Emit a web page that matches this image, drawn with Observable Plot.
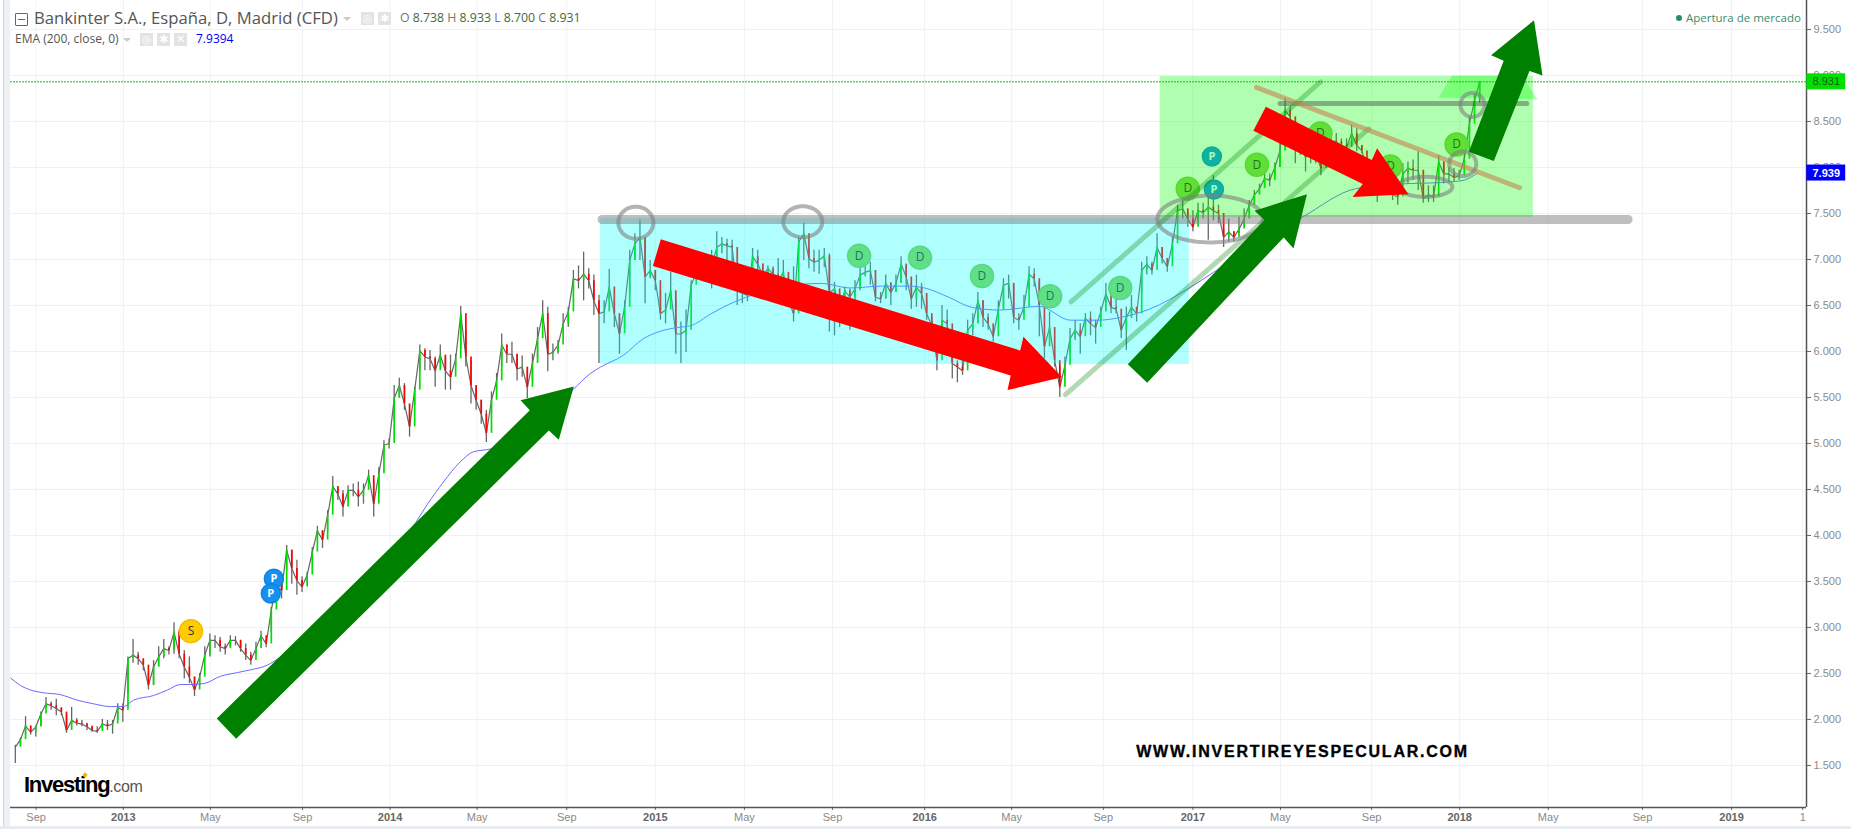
<!DOCTYPE html>
<html><head><meta charset="utf-8">
<script src="https://cdn.jsdelivr.net/npm/d3@7"></script>
<script src="https://cdn.jsdelivr.net/npm/@observablehq/plot@0.6"></script>
<style>
html,body{margin:0;padding:0;background:#fff;width:1851px;height:829px;overflow:hidden}
#chart{position:absolute;left:0;top:0}
.o{position:absolute;white-space:nowrap;line-height:1}
.hd{font-family:"Open Sans",sans-serif}
.ic{position:absolute;background:#e3e3e3;color:#fff;font:bold 11px/13px "DejaVu Sans";text-align:center;width:13px;height:13px}
.lstrip{position:absolute;left:3px;top:0;width:7px;height:829px;background:#eef1f4;border-left:1px solid #cfd3d8;box-sizing:border-box}
.bstrip{position:absolute;left:0;top:826px;width:1851px;height:3px;background:#e8ecf0}
</style></head><body>
<div class="lstrip"></div><div class="bstrip"></div>
<div id="chart"></div>
<script>
// session-indexed x axis (one unit = one weekly bar), as trading charts do
const tickSession=[4.06,21.1,38.1,56.1,73.2,90.2,107.7,125,142.4,159.6,177.6,194.6,212.5,230,247.1,264.9,282.1,299.4,317.8,335.2,349.1];
const tickLabel=["Sep","2013","May","Sep","2014","May","Sep","2015","May","Sep","2016","May","Sep","2017","May","Sep","2018","May","Sep","2019","1"];
const priceTicks=[1.5,2,2.5,3,3.5,4,4.5,5,5.5,6,6.5,7,7.5,8,8.5,9,9.5];

const low=[1.52,1.72,1.83,1.83,1.81,1.92,2.13,2.10,2.04,2.04,
1.85,1.95,1.93,1.92,1.88,1.86,1.85,1.90,1.88,1.84,
1.99,1.97,2.28,2.61,2.59,2.53,2.32,2.37,2.57,2.66,
2.70,2.71,2.66,2.44,2.39,2.25,2.37,2.66,2.68,2.77,
2.73,2.70,2.79,2.80,2.73,2.64,2.59,2.70,2.84,2.78,
2.95,3.29,3.31,3.62,3.47,3.35,3.38,3.49,3.73,3.98,
3.86,4.04,4.34,4.38,4.20,4.38,4.42,4.31,4.34,4.56,
4.20,4.45,4.91,4.94,5.25,5.50,5.36,5.07,5.41,5.79,
5.79,5.79,5.61,5.87,5.58,5.58,5.83,6.03,5.83,5.43,
5.36,5.21,5.01,5.32,5.58,5.83,5.87,5.87,5.68,5.72,
5.49,5.68,5.92,6.34,5.78,5.90,5.97,6.23,6.26,6.66,
6.68,6.55,6.68,6.39,5.87,6.30,6.55,6.26,5.97,6.25,
6.63,6.99,6.99,6.52,6.79,6.66,6.34,6.30,6.55,5.97,
5.87,5.99,6.59,6.77,6.86,6.92,6.68,7.03,7.06,6.97,
6.95,6.50,6.52,6.54,6.95,6.88,6.74,6.86,6.70,6.57,
6.81,6.48,6.32,7.06,6.99,6.90,6.86,6.84,6.91,6.21,
6.17,6.26,6.37,6.23,6.55,6.66,6.81,6.72,6.54,6.52,
6.57,6.50,6.64,6.74,6.66,6.46,6.48,6.46,6.34,6.23,
5.79,6.26,6.23,5.70,5.66,5.74,6.16,6.17,6.30,6.26,
6.23,6.10,6.36,6.45,6.57,6.30,6.23,6.39,6.68,6.70,
6.16,5.92,6.21,5.83,5.50,5.72,5.97,6.12,5.97,6.26,
6.17,6.08,6.32,6.52,6.41,6.41,6.14,6.01,6.36,6.32,
6.63,6.83,6.83,6.99,6.95,6.86,7.03,7.42,7.44,7.35,
7.30,7.41,7.44,7.21,7.42,7.39,7.13,7.19,7.19,7.28,
7.37,7.50,7.59,7.71,7.80,7.79,7.90,8.00,8.57,8.44,
8.04,8.13,7.95,8.04,8.04,7.91,8.08,8.18,8.20,8.18,
8.17,8.29,8.17,8.15,7.93,7.89,7.62,7.71,7.71,7.64,
7.59,7.84,7.82,7.86,7.75,7.61,7.62,7.62,7.86,7.82,
7.84,7.84,7.86,7.97,8.37,8.64,8.70];
const high=[1.72,1.80,2.03,1.92,1.93,2.08,2.24,2.19,2.22,2.13,
2.04,2.13,2.01,1.99,1.96,1.93,1.92,2.00,1.99,1.99,
2.17,2.17,2.68,2.87,2.73,2.64,2.50,2.64,2.79,2.87,
2.79,3.05,2.97,2.75,2.68,2.46,2.50,2.79,2.93,2.91,
2.89,2.82,2.91,2.90,2.86,2.82,2.73,2.84,2.96,2.86,
3.22,3.49,3.49,3.89,3.84,3.73,3.55,3.60,3.87,4.10,
4.05,4.27,4.64,4.53,4.49,4.54,4.56,4.58,4.56,4.71,
4.60,4.74,5.03,5.05,5.63,5.71,5.65,5.36,5.61,6.07,
6.03,6.01,5.94,6.07,5.94,5.96,5.97,6.49,6.23,5.90,
5.61,5.47,5.36,5.56,5.76,6.19,6.07,6.10,5.96,5.95,
5.79,5.97,6.26,6.55,6.48,6.08,6.12,6.41,6.48,6.88,
6.93,7.08,6.90,6.83,6.61,6.55,6.89,6.57,6.37,6.55,
7.10,7.28,7.43,7.22,6.99,6.88,6.66,6.63,6.86,6.57,
6.32,6.45,6.77,6.93,6.95,7.04,7.10,7.30,7.24,7.22,
7.21,6.92,6.77,6.72,7.12,7.10,6.95,6.93,6.92,7.01,
6.99,6.81,6.92,7.24,7.39,7.13,7.10,7.10,7.12,7.06,
6.75,6.63,6.70,6.68,6.77,6.93,6.95,6.97,6.77,6.64,
6.83,6.75,6.83,7.03,6.93,6.74,6.83,6.74,6.55,6.37,
5.97,6.50,6.45,5.94,5.90,5.90,6.34,6.41,6.64,6.55,
6.41,6.23,6.55,6.79,6.83,6.70,6.41,6.61,6.92,6.90,
6.75,6.19,6.43,5.97,5.83,5.94,6.25,6.34,6.30,6.41,
6.43,6.34,6.48,6.74,6.55,6.57,6.30,6.48,6.61,6.48,
6.97,7.03,6.97,7.28,7.13,6.99,7.24,7.59,7.66,7.51,
7.53,7.61,7.61,7.71,7.91,7.59,7.33,7.44,7.30,7.46,
7.55,7.64,7.75,7.82,7.95,7.93,8.05,8.29,8.75,8.66,
8.37,8.35,8.24,8.33,8.29,8.11,8.37,8.37,8.37,8.31,
8.31,8.46,8.42,8.24,8.08,8.04,7.82,7.82,7.89,7.82,
7.73,8.04,8.06,8.08,8.17,7.82,7.80,7.80,8.13,8.06,
8.00,7.99,7.97,8.17,8.55,8.80,8.933];
const close=[1.70,1.78,1.93,1.86,1.92,2.06,2.17,2.15,2.12,2.08,
1.88,1.99,1.96,1.95,1.92,1.88,1.87,1.95,1.93,1.95,
2.13,2.10,2.66,2.70,2.66,2.59,2.37,2.57,2.68,2.77,
2.75,2.95,2.71,2.57,2.46,2.32,2.46,2.70,2.86,2.86,
2.79,2.77,2.86,2.86,2.77,2.70,2.64,2.77,2.91,2.82,
3.19,3.46,3.40,3.84,3.64,3.51,3.44,3.57,3.82,4.05,
3.95,4.22,4.53,4.45,4.31,4.49,4.49,4.42,4.49,4.65,
4.34,4.67,4.98,5.00,5.49,5.63,5.43,5.18,5.58,6.01,
5.94,5.92,5.79,5.96,5.79,5.72,5.92,6.41,5.94,5.63,
5.47,5.32,5.11,5.47,5.68,6.07,5.97,5.97,5.81,5.83,
5.61,5.87,6.14,6.41,5.97,5.99,6.07,6.30,6.43,6.79,
6.77,6.84,6.77,6.55,6.41,6.43,6.70,6.41,6.19,6.48,
6.99,7.17,7.24,6.81,6.88,6.77,6.41,6.45,6.66,6.19,
6.19,6.23,6.72,6.86,6.92,6.99,6.92,7.13,7.17,7.15,
7.13,6.66,6.63,6.61,7.03,6.95,6.83,6.90,6.84,6.77,
6.86,6.55,6.41,7.19,7.28,7.01,6.97,6.99,7.04,6.64,
6.68,6.48,6.66,6.59,6.68,6.83,6.86,6.88,6.59,6.57,
6.74,6.64,6.74,6.95,6.81,6.57,6.70,6.63,6.41,6.28,
5.90,6.34,6.30,5.87,5.83,5.79,6.23,6.30,6.55,6.37,
6.30,6.16,6.46,6.72,6.74,6.37,6.34,6.48,6.84,6.79,
6.50,6.05,6.26,5.90,5.61,5.85,6.14,6.23,6.16,6.36,
6.30,6.26,6.43,6.63,6.48,6.46,6.23,6.37,6.48,6.41,
6.88,6.95,6.88,7.13,7.01,6.92,7.17,7.53,7.55,7.44,
7.35,7.53,7.51,7.57,7.53,7.50,7.24,7.30,7.24,7.33,
7.44,7.59,7.70,7.77,7.88,7.86,8.00,8.18,8.62,8.55,
8.22,8.26,8.11,8.20,8.15,7.99,8.26,8.29,8.28,8.24,
8.22,8.37,8.24,8.18,7.97,7.93,7.70,7.77,7.79,7.71,
7.68,7.93,7.99,7.97,7.97,7.66,7.70,7.68,8.06,7.93,
7.93,7.89,7.91,8.09,8.47,8.73,8.931];

const emaSession=[-0.9,1,3,5.5,8.8,12.1,15.3,18.6,21.1,23.1,27,29.7,32.3,34.2,36.8,40.1,43.4,46,49.2,51.8,78.2,80.5,83.6,86.9,89.5,92.8,109,112.3,114.3,118.8,122.7,126,129.3,131.9,135.9,140.5,157.5,163,169.1,174.5,177.6,182.3,186.8,192.2,200,206.1,211.5,215.9,221.5,229.3,234,251.4,261.8,270.5,279.3,282.8,285.6];
const emaValue=[2.45,2.37,2.32,2.29,2.27,2.21,2.17,2.14,2.14,2.21,2.26,2.32,2.38,2.38,2.39,2.47,2.51,2.54,2.59,2.68,4.14,4.34,4.58,4.80,4.91,4.94,5.59,5.76,5.83,5.96,6.14,6.22,6.26,6.28,6.41,6.54,6.74,6.69,6.71,6.71,6.69,6.59,6.48,6.45,6.49,6.34,6.34,6.37,6.46,6.69,6.86,7.46,7.77,7.82,7.84,7.86,7.94];

const dMarkers=[[164.8,7.04],[176.7,7.02],[188.8,6.82],[202.1,6.60],[215.8,6.69],[229,7.77],[242.5,8.03],[254.9,8.37],[268.6,8.01],[281.5,8.25]];
const pMarkers=[[233.7,8.12],[234.1,7.76],[50.5,3.53],[49.9,3.37]];
const sMarkers=[[34.3,2.96]];

const arrowUp1=[[39.35,2.01],[100.49,5.36],[98.67,5.47],[109.08,5.62],[106.15,5.04],[104.2,5.14],[43.14,1.79]];
const arrowUp2=[[217.28,5.86],[243.98,7.43],[242.03,7.53],[252.28,7.71],[249.65,7.12],[247.73,7.24],[221.07,5.66]];
const arrowUp3=[[283.89,8.17],[288.77,8.07],[295.74,9.05],[298.28,9.0],[296.62,9.6],[288.24,9.22],[290.7,9.16]];
const arrowDown1=[[126.07,7.22],[124.53,6.93],[194.41,5.74],[193.79,5.58],[204.45,5.72],[196.9,6.16],[196.27,6.01]];
const arrowDown2=[[244.24,8.66],[241.8,8.4],[263.18,7.82],[261.17,7.68],[272.09,7.71],[265.98,8.21],[264.94,8.08]];
const trapezoid=[[278,8.76],[280.6,9.0],[294.2,9.0],[297.3,8.74]];
const channelLow=[[205.1,5.53],[264.3,8.42]];
const channelHigh=[[206.2,6.54],[254.9,8.93]];
const fallLine=[[242.4,8.87],[293.8,7.78]];
const supportBand=[[114.6,7.435],[315,7.435]];
const topBand=[[247,8.696],[295.2,8.696]];
// centre session, centre price, session radius, price radius
const ellipses=[[121.2,7.40,3.42,.174],[153.8,7.41,3.81,.168],[233.4,7.44,10.35,.255],[275.4,7.79,5.27,.109],[282.7,8.04,2.64,.134],[284.6,8.68,2.34,.13]];

const lastClose=8.931, lastEma=7.9394;
const bars=close.map((c,i)=>({i,c,o:i?close[i-1]:c,l:low[i],h:high[i]}));
const poly=(pts,fill,extra={})=>Plot.line(pts,{x:d=>d[0],y:d=>d[1],fill,stroke:"none",curve:"linear",...extra});
const seg=(pts,stroke,w,op)=>Plot.line(pts,{x:d=>d[0],y:d=>d[1],stroke,strokeWidth:w,strokeOpacity:op});
const ell=e=>Plot.line(d3.range(73).map(k=>[e[0]+e[2]*Math.cos(k/36*Math.PI),e[1]+e[3]*Math.sin(k/36*Math.PI)]),{x:d=>d[0],y:d=>d[1],stroke:"#808080",strokeWidth:4,strokeOpacity:.6});
const lbl=new Map(tickSession.map((t,i)=>[t,tickLabel[i]]));
const isYear=t=>/^20/.test(lbl.get(t));
const boldT=tickSession.filter(isYear), normT=tickSession.filter(t=>!isYear(t));
const font="'Liberation Sans',Arial,sans-serif";

const chart=Plot.plot({
  width:1851,height:829,marginLeft:10,marginRight:45,marginTop:0,marginBottom:22,
  style:{background:"transparent",fontFamily:font},
  x:{type:"linear",domain:[-0.94,349.84],range:[10,1806],label:null},
  y:{type:"linear",domain:[1.043,9.815],range:[807,0],label:null},
  marks:[
    Plot.gridX(tickSession,{stroke:"#eff2f5",strokeOpacity:1}),
    Plot.gridY(priceTicks,{stroke:"#eff2f5",strokeOpacity:1}),
    Plot.axisY({anchor:"right",ticks:priceTicks,tickFormat:d3.format(".3f"),tickSize:4,tickPadding:3,fontSize:11,fill:"#8a8a8a",stroke:"#666",label:null}),
    Plot.axisX({anchor:"bottom",ticks:normT,tickFormat:t=>lbl.get(t),tickSize:3,tickPadding:3,fontSize:11,fill:"#8a8a8a",stroke:"#666",label:null}),
    Plot.axisX({anchor:"bottom",ticks:boldT,tickFormat:t=>lbl.get(t),tickSize:3,tickPadding:3,fontSize:11,fontWeight:"bold",fill:"#666",stroke:"#666",label:null}),
    Plot.line(bars,{x:"i",y:"c",stroke:"#666",strokeWidth:1.2}),
    Plot.ruleX(bars,{x:"i",y1:"l",y2:"h",stroke:"#666",strokeWidth:1.3}),
    Plot.ruleX(bars.filter(d=>d.c>=d.o),{x:"i",y1:"o",y2:"c",stroke:"#00dd00",strokeWidth:1.7}),
    Plot.ruleX(bars.filter(d=>d.c<d.o),{x:"i",y1:"o",y2:"c",stroke:"#ff0000",strokeWidth:1.7}),
    Plot.line(emaSession.map((x,k)=>[x,emaValue[k]]),{x:d=>d[0],y:d=>d[1],stroke:"#6a6aff",strokeWidth:1,curve:"monotone-x"}),
    Plot.dot(dMarkers,{x:d=>d[0],y:d=>d[1],r:11.5,fill:"#8cd250",stroke:"#7fc648"}),
    Plot.text(dMarkers,{x:d=>d[0],y:d=>d[1],text:()=>"D",fill:"#333",fontSize:12,fontFamily:"'Open Sans'"}),
    Plot.dot(pMarkers,{x:d=>d[0],y:d=>d[1],r:9.5,fill:"#1590f0",stroke:"#1284de"}),
    Plot.text(pMarkers,{x:d=>d[0],y:d=>d[1],text:()=>"P",fill:"#fff",fontSize:11,fontWeight:"bold",fontFamily:"'Open Sans'"}),
    Plot.dot(sMarkers,{x:d=>d[0],y:d=>d[1],r:11.5,fill:"#ffcc00",stroke:"#f2bd00"}),
    Plot.text(sMarkers,{x:d=>d[0],y:d=>d[1],text:()=>"S",fill:"#333",fontSize:12,fontFamily:"'Open Sans'"}),
    Plot.rect([[114.3,229.3,5.859,7.446]],{x1:d=>d[0],x2:d=>d[1],y1:d=>d[2],y2:d=>d[3],fill:"#00ffff",fillOpacity:.31}),
    Plot.rect([[223.6,296.5,7.457,8.99]],{x1:d=>d[0],x2:d=>d[1],y1:d=>d[2],y2:d=>d[3],fill:"#00ff00",fillOpacity:.31}),
    poly(trapezoid,"#00ff00",{fillOpacity:.3}),
    Plot.ruleY([lastClose],{stroke:"#00c800",strokeWidth:1,strokeDasharray:"2,1"}),
    seg(supportBand,"#808080",9,.5),
    seg(topBand,"#3a3a3a",5,.4),
    seg(channelLow,"#008000",5,.3),
    seg(channelHigh,"#008000",5,.3),
    seg(fallLine,"#c88253",5,.6),
    ...ellipses.map(ell),
    poly(arrowUp1,"#008000"),
    poly(arrowUp2,"#008000"),
    poly(arrowUp3,"#008000"),
    poly(arrowDown1,"#ff0000"),
    poly(arrowDown2,"#ff0000"),
    Plot.ruleX([349.84],{stroke:"#555",strokeWidth:1.5}),
    Plot.ruleY([1.043],{stroke:"#555",strokeWidth:1.5}),
    Plot.rect([[349.9,357.5,lastClose-.087,lastClose+.087]],{x1:d=>d[0],x2:d=>d[1],y1:d=>d[2],y2:d=>d[3],fill:"#00e000"}),
    Plot.rect([[349.9,357.5,lastEma-.087,lastEma+.087]],{x1:d=>d[0],x2:d=>d[1],y1:d=>d[2],y2:d=>d[3],fill:"#0000ff"}),
    Plot.text([lastClose],{x:353.7,y:d=>d,text:d=>d.toFixed(3),fill:"#1a5a1a",fontSize:11}),
    Plot.text([lastEma],{x:353.7,y:d=>d,text:d=>d.toFixed(3),fill:"#fff",fontSize:11,fontWeight:"bold"}),
    Plot.text(["WWW.INVERTIREYESPECULAR.COM"],{x:251.4,y:1.645,text:d=>d,fontSize:16,fontWeight:"bold",fill:"#000",stroke:"#000",strokeWidth:.35,fontFamily:font})
  ]
});
document.getElementById("chart").append(chart);
chart.querySelectorAll("text").forEach(t=>{if(t.textContent.startsWith("WWW"))t.style.letterSpacing="1.75px"});

const html=`
<div class="o" style="left:15px;top:13px;width:11px;height:11px;border:1px solid #666;border-radius:1px"><div style="position:absolute;left:2px;top:5px;width:7px;height:1px;background:#666"></div></div>
<div class="o hd" style="left:34px;top:10px;font-size:16.7px;color:#555">Bankinter S.A., España, D, Madrid (CFD)</div>
<div class="o" style="left:343px;top:17px;width:0;height:0;border:4px solid transparent;border-top:4px solid #ccc"></div>
<div class="ic" style="left:361px;top:12px">◎</div><div class="ic" style="left:378px;top:12px">✱</div>
<div class="o hd" style="left:400px;top:12px;font-size:12.3px;color:#777">O <span style="color:#3d6b3d">8.738</span> H <span style="color:#3d6b3d">8.933</span> L <span style="color:#3d6b3d">8.700</span> C <span style="color:#3d6b3d">8.931</span></div>
<div class="o hd" style="left:15px;top:33px;font-size:12px;color:#555">EMA (200, close, 0)</div>
<div class="o" style="left:123px;top:38px;width:0;height:0;border:4px solid transparent;border-top:4px solid #ccc"></div>
<div class="ic" style="left:140px;top:33px">◎</div><div class="ic" style="left:157px;top:33px">✱</div><div class="ic" style="left:174px;top:33px">✕</div>
<div class="o hd" style="left:196px;top:33px;font-size:12px;color:#0000ff">7.9394</div>
<div class="o" style="left:1676px;top:15px;width:6px;height:6px;border-radius:50%;background:#2e8b67"></div>
<div class="o hd" style="left:1686px;top:12px;font-size:11.5px;color:#3c8c6c">Apertura de mercado</div>
<div class="o" style="left:24px;top:772px;font:bold 22px 'Liberation Sans';letter-spacing:-1.25px;color:#000">Investing<span style="font:normal 16px 'Liberation Sans';letter-spacing:-.4px;color:#555">.com</span></div>
<div class="o" style="left:83px;top:773px;width:4px;height:4px;background:#f5b800;border-radius:1px;transform:rotate(30deg)"></div>`;
document.body.insertAdjacentHTML("beforeend",html);
</script></body></html>
